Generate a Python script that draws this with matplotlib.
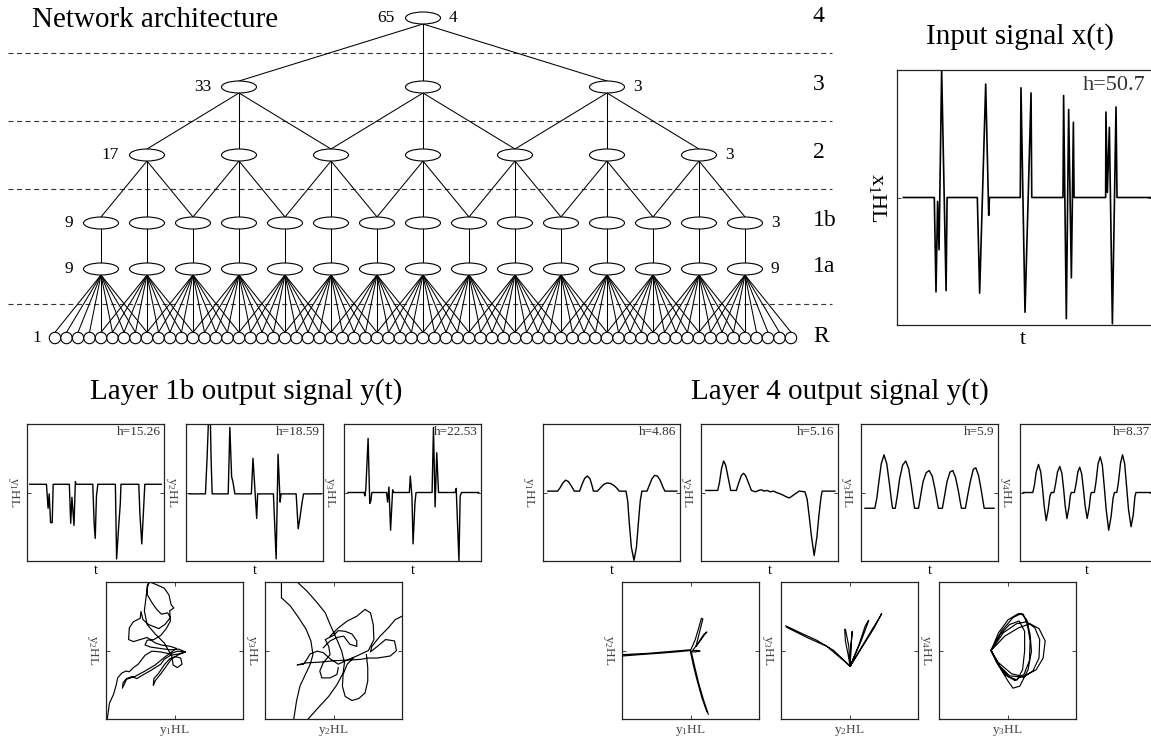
import numpy as np
import matplotlib
matplotlib.use("Agg")
import matplotlib.pyplot as plt
from matplotlib.patches import Ellipse, Circle

plt.rcParams['font.family'] = ['Liberation Serif', 'DejaVu Serif']
plt.rcParams['mathtext.fontset'] = 'custom'
plt.rcParams['mathtext.rm'] = 'Liberation Serif'
plt.rcParams['mathtext.it'] = 'Liberation Serif:italic'
plt.rcParams['mathtext.bf'] = 'Liberation Serif:bold'

# ---------------- network structure ----------------
layer_names = ['R', '1a', '1b', '2', '3', '4']
layer_sizes = [65, 15, 15, 7, 3, 1]
fan_in = [9, 1, 3, 3, 3]        # connections of each layer above R
stride = [4, 1, 2, 2, 1]
rf_left = ['1', '9', '9', '17', '33', '65']
units_right = ['', '9', '3', '3', '3', '4']

# ---------------- input signal ----------------
in_t = [6.3, 37, 38.7, 40.3, 41.7, 44.3, 48.7, 49.7, 79.7, 82, 88, 91, 91.7,
        122.3, 123, 127, 133, 133.7, 164.7, 165.3, 168, 170.3, 173, 175, 175.7,
        207, 207.3, 208.7, 210.7, 213.7, 217.3, 218.3, 253]
in_x = [0, 0, -0.74, -0.03, -0.41, 1.0, -0.73, 0, 0, -0.75, 0.89, -0.14, 0,
        0, 0.86, -0.90, 0.82, 0, 0, 0.80, -0.95, 0.69, -0.63, 0.59, 0,
        0, 0.67, 0.04, 0.55, -0.99, 0.71, 0, 0]
in_h = '50.7'

# ---------------- layer 1b outputs ----------------
l1b_t1 = [2, 14.2, 15.4, 16.2, 17.2, 18.4, 19.1, 30.9, 31.9, 32.8, 34.3, 35.3, 35.8,
          48.0, 49.0, 49.8, 50.7, 51.7, 64.5, 65.4, 66.9, 68.1, 68.6,
          81.6, 82.4, 83.8, 85.3, 86.0, 98.0]
l1b_y1 = [.12, .12, -.23, -.02, -.44, -.44, .12, .12, -.45, -.07, -.48, .16, .12,
          .12, -.45, -.67, -.05, .12, .12, -.97, -.50, -.16, .12,
          .12, -.31, -.75, -.16, .12, .12]
l1b_t2 = [2.4, 14.2, 15.4, 16.4, 17.8, 18.3, 19.1, 30.8, 32.0, 33.3, 34.2, 35.7,
          47.7, 48.9, 50.1, 51.6, 52.3, 63.8, 65.8, 67.2, 68.7, 69.4,
          80.4, 81.9, 83.1, 84.6, 85.8, 98.5]
l1b_y2 = [-.02, -.02, .51, 1.05, 1.05, .50, -.02, -.02, .95, .23, .16, -.02,
          -.02, .50, .11, -.38, -.02, -.02, -.97, .56, -.14, -.02,
          -.02, -.53, -.38, -.16, -.02, -.02]
l1b_t3 = [2.9, 14.7, 15.2, 15.9, 17.6, 18.8, 19.6, 20.3, 31.1, 31.8, 32.8, 34.0, 35.5, 36.4,
          47.7, 48.4, 49.6, 50.4, 51.8, 52.6, 64.3, 65.3, 66.5, 67.7, 69.0,
          81.2, 81.9, 82.6, 83.9, 84.8, 85.8, 98.3]
l1b_y3 = [0, 0, -.05, .04, .79, -.16, -.12, 0, 0, -.14, .08, -.55, .04, 0,
          0, .24, -.06, -.75, -.15, 0, 0, .95, -.21, .58, 0,
          0, .06, -.31, -1.0, -.05, 0, 0]
l1b_h = ['15.26', '18.59', '22.53']

# ---------------- layer 4 outputs ----------------
l4_t1 = [3.5, 10.7, 12.5, 14.5, 16.5, 18.5, 20.5, 22.9, 26.7, 28.5, 30.5, 32.5, 34.3, 35.8, 36.8,
         39.7, 42, 44.5, 47, 49.5, 52, 54, 55.7, 60.6, 61.8, 63, 64.5, 66.4, 68.2, 69.6, 71, 72.2,
         75.9, 77.5, 79.5, 81.5, 83.5, 85.5, 87.5, 89, 97.7]
l4_y1 = [.02, .02, .07, .14, .18, .16, .10, .02, .02, .12, .21, .24, .20, .10, .02,
         .02, .07, .12, .14, .13, .10, .06, .02, .02, -.12, -.45, -.80, -.99, -.80, -.45, -.12, .02,
         .02, .10, .20, .25, .24, .18, .08, .02, .02]
l4_t2 = [3.5, 12.2, 13.5, 15, 16.5, 18, 19.5, 21.7, 25.8, 27.5, 29.5, 31, 32.5, 34.5, 36.8,
         39.7, 42, 44.1, 46, 48.4, 50.5, 52.8, 55.7, 58, 60, 62, 64.3, 66, 68, 71.6,
         75.9, 77.5, 79, 80.5, 82.6, 84.6, 86, 87.5, 88.4, 97.7]
l4_y2 = [.03, .03, .15, .35, .46, .40, .25, .03, .03, .14, .25, .28, .25, .15, .03,
         .01, .03, .04, .02, .03, .01, .02, -.005, -.02, -.04, -.06, -.08, -.06, -.03, .02,
         .01, -.10, -.35, -.62, -.92, -.65, -.35, -.08, .02, .02]
l4_t3 = [2.9, 10.1, 11.6, 13, 14.8, 16.8, 18.8, 20.6, 22, 23, 25, 26.5, 28.2, 30.4, 32.6, 34.8,
         36.6, 38, 39.1, 42, 43.5, 45.3, 47.6, 49.8, 52, 54, 55.5, 56.5, 59.4, 61, 62.8, 65,
         67, 69, 71, 72.3, 73.3, 76.2, 77.8, 79.8, 82, 83.8, 85.8, 87.8, 89, 89.9, 97.1]
l4_y3 = [-.23, -.23, -.08, .15, .42, .55, .42, .15, -.08, -.23, -.23, -.05, .20, .40, .46, .35,
         .12, -.08, -.23, -.23, -.05, .16, .29, .32, .24, .05, -.12, -.23, -.23, -.05, .16, .30,
         .32, .22, .03, -.12, -.23, -.23, -.05, .16, .34, .36, .25, .03, -.12, -.23, -.23]
l4_t4 = [2.3, 9.6, 10.8, 12.2, 13.9, 15.6, 17, 18.2, 19.7, 21.2, 22.5, 23.5,
         25.5, 26.7, 28.2, 29.9, 31.5, 32.8, 34, 35.3, 36.8, 37.8, 38.6,
         40.9, 42.1, 43.5, 44.9, 46.4, 47.7, 49, 50.5, 52, 53, 53.6,
         55.9, 57.1, 58.7, 60.3, 61.9, 63.3, 64.8, 66.7, 68.5, 70, 71,
         72.8, 74, 75.6, 77.1, 78.7, 80.1, 81.6, 83.5, 85.2, 86.4, 87.2, 100]
l4_y4 = [0, 0, .10, .30, .41, .30, .05, -.20, -.41, -.25, -.05, 0,
         0, .12, .30, .38, .28, .05, -.20, -.38, -.22, -.05, 0,
         0, .12, .30, .37, .27, .05, -.20, -.38, -.22, -.05, 0,
         0, .15, .42, .52, .40, .10, -.25, -.55, -.35, -.08, 0,
         0, .15, .43, .55, .42, .10, -.25, -.50, -.32, -.06, 0, 0]
l4_h = ['4.86', '5.16', '5.9', '8.37']

# ---------------- phase portraits (nan separates strokes) ----------------
n = np.nan
ph1b_12_u = [-.98, -.95, -.89, -.85, -.83, -.77, -.71, -.66, -.60, -.53, -.43, -.33, -.21, -.06, .04, .16,
             .06, -.06, -.15, -.20, -.28, -.36, -.45, -.55, -.62, -.70, -.75, -.76,
             -.70, -.58, -.43, -.28, -.16, -.04, .03, -.06, -.19, -.28, -.40, -.50, -.60, -.67,
             -.66, -.60, -.50, -.49, -.46, -.38, -.23, -.14, -.06, -.10, -.19, -.26, -.33, -.40,
             -.40, -.36, -.26, -.15, -.08, -.05, -.01, -.07, -.06, -.12, -.20, -.30, -.40, -.43,
             -.35, -.21, -.06, .06, .16, .04, -.05, -.12, -.20, -.28, -.31, -.30, -.23, -.15,
             -.07, .01, .09, .11, .04, -.02, -.04, -.15, -.28, -.40, -.44, -.41, -.38]
ph1b_12_v = [-.99, -.77, -.64, -.50, -.40, -.33, -.30, -.31, -.25, -.20, -.07, -.01, -.02, -.05, -.01, -.02,
             -.05, -.07, -.13, -.20, -.25, -.30, -.35, -.41, -.38, -.41, -.47, -.55,
             -.42, -.38, -.30, -.21, -.11, -.02, .03, .06, .08, .11, .19, .16, .13, .16,
             .33, .42, .47, .57, .45, .38, .32, .38, .48, .55, .53, .60, .70, .82,
             .94, 1.0, .96, .91, .81, .67, .62, .58, .43, .32, .22, .16, .15, .08,
             .05, .03, .01, .02, -.02, -.07, -.13, -.23, -.34, -.44, -.51, -.41, -.33, -.21,
             -.12, -.09, -.11, -.20, -.25, -.21, -.08, .11, .24, .38, .58, .82, 1.0]
ph1b_23_u = [-.76, -.76, -.63, -.51, -.40, -.33, -.30, -.34, -.41, -.49, -.54, -.58, n,
             -.53, -.39, -.24, -.12, -.05, .05, .12, .16, .14, .05, -.07, -.20, -.29, -.37, n,
             -.05, .07, .20, .34, .46, .54, .58, .59, .51, .34, .22, .07, -.05, -.15, -.24, -.34,
             -.39, -.44, -.53, -.39, -.20, .00, .20, .39, .51, .64, .83, .92, .89, .76, .64, .54,
             .56, .68, .80, .90, 1.0, n,
             .29, .20, .14, .13, .17, .27, .37, .46, .50, .50, .48, n,
             -.15, -.05, .05, .15, .20, .24, .34, .34, .27, .17, .07, .00, -.12, -.07, -.05, -.15,
             -.20, -.17, -.05, .05, .07]
ph1b_23_v = [1.0, .77, .65, .48, .31, .14, -.06, -.20, -.35, -.52, -.74, -1.0, n,
             1.0, .87, .70, .55, .38, .16, -.01, -.18, -.33, -.50, -.67, -.81, -.91, -1.0, n,
             .21, .33, .43, .50, .60, .55, .38, .16, .00, -.08, -.13, -.20, -.12, -.03, -.01, -.05,
             -.13, -.20, -.21, -.18, -.17, -.15, -.14, -.13, -.11, -.11, -.08, .00, .14, .16, .06, -.02,
             .06, .21, .33, .45, .50, n,
             -.11, -.20, -.35, -.52, -.67, -.73, -.70, -.62, -.45, -.25, -.06, n,
             .04, .14, .19, .21, .14, .09, .06, .14, .24, .28, .29, .22, .16, .06, -.06, -.18,
             -.30, -.40, -.40, -.35, -.25]
ph4_12_u = [-.99, -.74, -.45, -.20, 0, n, -.98, -.60, -.25, -.01, n,
            0, .07, .12, .16, .18, .13, .08, .14, .22, .24, .19, .10, .03, .12, .14, .07, 0, n,
            0, .04, .10, .17, .23, .26, n, .01, .06, .12, .19, .25]
ph4_12_v = [-.08, -.06, -.04, -.02, 0, n, -.06, -.04, -.01, .01, n,
            0, .16, .33, .47, .46, .26, .06, .14, .25, .27, .23, .09, 0, 0, -.01, -.02, -.02, n,
            -.02, -.21, -.45, -.70, -.87, -.93, n, -.01, -.23, -.48, -.72, -.90]
ph4_23_u = [-.93, -.72, -.48, -.23, .01, n, -.92, -.62, -.33, .00, n,
            .01, -.02, -.06, -.07, -.06, -.01, .01, .02, .04, .02, .01, n,
            .01, .14, .23, .28, .26, .17, .06, .01, n,
            .01, .21, .36, .47, .45, .32, .11, .01]
ph4_23_v = [.36, .26, .15, 0, -.23, n, .34, .19, .06, -.22, n,
            -.23, -.06, .14, .31, .31, .06, -.23, .04, .28, .06, -.23, n,
            -.23, .09, .36, .44, .38, .14, -.11, -.23, n,
            -.23, .09, .33, .54, .50, .29, -.06, -.23]
ph4_34_u = [-.24, -.13, .01, .16, .23, .29, .33, .32, .24, .11, -.04, -.16, -.24, n,
            -.24, -.09, .08, .20, .28, .33, .35, .30, .18, .08, .01, -.14, -.24, n,
            -.24, -.06, .13, .28, .40, .47, .46, .37, .23, .03, -.11, -.24, n,
            -.24, -.04, .16, .33, .46, .55, .52, .42, .23, .06, -.14, -.24, n,
            -.24, -.11, .03, .17, .25, .25, .22, .14, .01, -.14, -.24]
ph4_34_v = [0, .26, .45, .54, .53, .38, .14, -.15, -.35, -.44, -.35, -.17, 0, n,
            0, .28, .48, .54, .45, .23, -.01, -.28, -.52, -.55, -.45, -.20, 0, n,
            0, .26, .39, .42, .33, .16, -.11, -.30, -.39, -.37, -.23, 0, n,
            0, .21, .33, .39, .32, .14, -.11, -.28, -.38, -.34, -.17, 0, n,
            0, .23, .38, .43, .28, -.01, -.28, -.43, -.38, -.20, 0]

# ---------------- figure ----------------
W, H = 1151, 740
fig = plt.figure(figsize=(W / 100, H / 100), dpi=100)
bg = fig.add_axes([0, 0, 1, 1])
bg.set_xlim(0, W)
bg.set_ylim(H, 0)
bg.axis('off')


def pax(l, t, w, h):
    return fig.add_axes([l / W, 1 - (t + h) / H, w / W, h / H])


def ftext(x, y, s, **kw):
    bg.text(x, y, s, **kw)


# network geometry (layout)
layer_y = [338, 269, 223, 155, 87, 18]
xs = [55 + 11.5 * np.arange(layer_sizes[0])]
for li in range(1, len(layer_sizes)):
    prev = xs[-1]
    f, s = fan_in[li - 1], stride[li - 1]
    xs.append(np.array([prev[j * s: j * s + f].mean() for j in range(layer_sizes[li])]))

EW, EH, CR = 35, 12, 5.7
for li in range(1, len(layer_sizes)):
    f, s = fan_in[li - 1], stride[li - 1]
    ch = 2 * CR if li == 1 else EH
    for j, x in enumerate(xs[li]):
        for c in range(j * s, j * s + f):
            bg.plot([x, xs[li - 1][c]], [layer_y[li] + EH / 2, layer_y[li - 1] - ch / 2],
                    color='black', lw=0.75, zorder=2)
for x in xs[0]:
    bg.add_patch(Circle((x, layer_y[0]), CR, facecolor='white', edgecolor='black', lw=0.8, zorder=3))
for li in range(1, len(layer_sizes)):
    for x in xs[li]:
        bg.add_patch(Ellipse((x, layer_y[li]), EW, EH, facecolor='white', edgecolor='black',
                             lw=0.8, zorder=3))

for a, b in [(0, 1), (2, 3), (3, 4), (4, 5)]:
    yy = (layer_y[a] + layer_y[b]) / 2
    bg.plot([8, 832], [yy, yy], color='#333', lw=0.8, ls=(0, (4.5, 3.2)), zorder=1)

for li in range(len(layer_sizes)):
    off = CR + 8 if li == 0 else 28
    ftext(xs[li][0] - off, layer_y[li], rf_left[li], ha='right', va='center', fontsize=12.5)
    if units_right[li]:
        ftext(xs[li][-1] + 26, layer_y[li], units_right[li], ha='left', va='center', fontsize=12.5)
    ftext(813, layer_y[li] - 2, layer_names[li], ha='left', va='center', fontsize=17)

ftext(155, 20, 'Network architecture', ha='center', va='center', fontsize=21)
ftext(1020, 37, 'Input signal x(t)', ha='center', va='center', fontsize=21)
ftext(246, 392, 'Layer 1b output signal y(t)', ha='center', va='center', fontsize=21)
ftext(840, 392, 'Layer 4 output signal y(t)', ha='center', va='center', fontsize=21)

SP_C = '#222'


def frame(ax):
    for sp in ax.spines.values():
        sp.set_linewidth(0.9)
        sp.set_color(SP_C)


def time_panel(ax, t, y, h, ylab, xmax=100, fs=9.5, lfs=9.5, lw=1.0):
    ax.plot(t, y, color='black', lw=lw)
    ax.set_xlim(0, xmax)
    ax.set_ylim(-1, 1)
    frame(ax)
    ax.set_xticks([])
    ax.set_yticks([0])
    ax.tick_params(axis='y', direction='in', length=3, width=0.6, right=True,
                   labelleft=False, colors=SP_C)
    ax.text(0.975, 0.94, 'h=' + h, transform=ax.transAxes, ha='right', va='center',
            fontsize=fs, color='#333')


def phase_panel(ax, u, v):
    ax.plot(u, v, color='black', lw=0.85)
    ax.set_xlim(-1, 1)
    ax.set_ylim(-1, 1)
    frame(ax)
    ax.set_xticks([0])
    ax.set_yticks([0])
    ax.tick_params(direction='in', length=3, width=0.6, top=True, right=True,
                   labelleft=False, labelbottom=False, colors=SP_C)


# input panel
ax = pax(897, 70, 255, 255)
time_panel(ax, in_t, in_x, in_h, None, xmax=253, fs=16, lw=1.2)
ftext(1023, 340, 't', ha='center', va='center', fontsize=16)
ftext(878, 198, r'x$_1$HL', ha='center', va='center', fontsize=16, rotation=270)

# layer 1b time panels
for i, (l, t, y) in enumerate(zip([27, 186, 344], [l1b_t1, l1b_t2, l1b_t3],
                                  [l1b_y1, l1b_y2, l1b_y3])):
    ax = pax(l, 424, 137, 137)
    time_panel(ax, t, y, l1b_h[i], None)
    ftext(l + 68.5, 571, 't', ha='center', va='center', fontsize=10)
    ftext(l - 14, 492, 'y$_%d$HL' % (i + 1), ha='center', va='center', fontsize=9.5,
          rotation=270, color='#444')

# layer 4 time panels
for i, (l, t, y) in enumerate(zip([543, 701, 861, 1020], [l4_t1, l4_t2, l4_t3, l4_t4],
                                  [l4_y1, l4_y2, l4_y3, l4_y4])):
    w = 137 if i < 3 else 133
    ax = pax(l, 424, w, 137)
    time_panel(ax, t, y, l4_h[i], None)
    ftext(l + w / 2, 571, 't', ha='center', va='center', fontsize=10)
    ftext(l - 14, 492, 'y$_%d$HL' % (i + 1), ha='center', va='center', fontsize=9.5,
          rotation=270, color='#444')

# phase panels
phase_sets = [(106, ph1b_12_u, ph1b_12_v, 1, 2), (265, ph1b_23_u, ph1b_23_v, 2, 3),
              (622, ph4_12_u, ph4_12_v, 1, 2), (781, ph4_23_u, ph4_23_v, 2, 3),
              (939, ph4_34_u, ph4_34_v, 3, 4)]
for l, u, v, a, b in phase_sets:
    ax = pax(l, 582, 137, 137)
    phase_panel(ax, u, v)
    ftext(l + 68.5, 731, 'y$_%d$HL' % a, ha='center', va='center', fontsize=9.5, color='#444')
    ftext(l - 13, 650, 'y$_%d$HL' % b, ha='center', va='center', fontsize=9.5,
          rotation=270, color='#444')

fig.savefig('out.png', dpi=100)
